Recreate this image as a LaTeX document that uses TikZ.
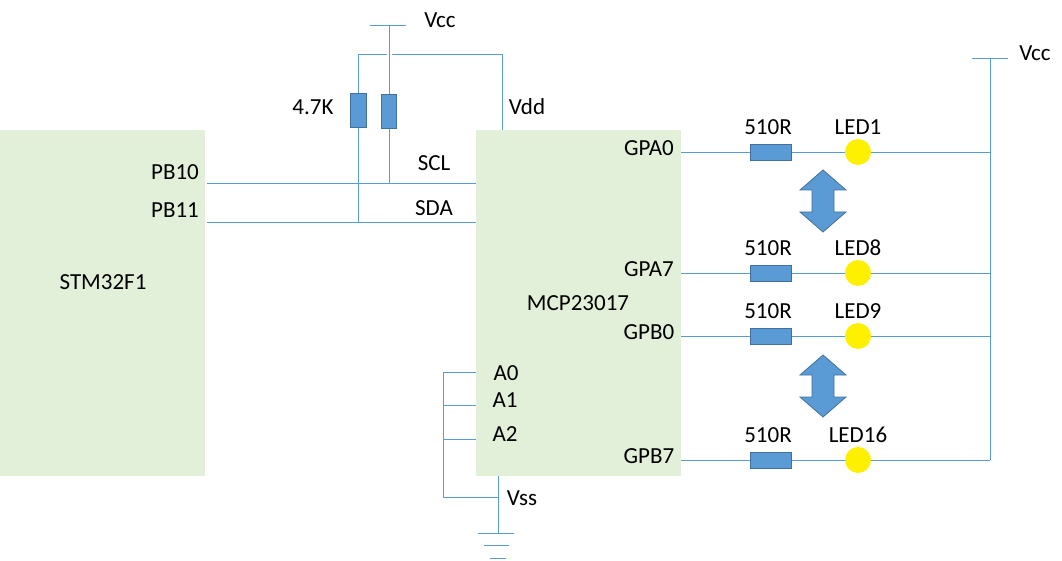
\documentclass[tikz,border=0pt]{standalone}
\usepackage{fontspec}
\setmainfont{Carlito}
\usetikzlibrary{positioning}
\definecolor{wire}{RGB}{91,155,213}
\definecolor{wiredark}{RGB}{65,113,156}
\definecolor{chip}{RGB}{226,239,217}
\definecolor{ledyellow}{RGB}{255,240,0}
\tikzset{
    chip/.style={fill=chip,draw=none,minimum width=205pt,minimum height=346pt,inner sep=0pt},
    wire/.style={draw=wire,line width=0.9pt},
    res/.style={fill=wire,draw=wiredark,line width=0.8pt},
    led/.style={fill=ledyellow,draw=none},
    lbl/.style={font=\fontsize{23}{27}\selectfont,inner sep=0pt}
}
\newcommand{\dblarrow}[2]{%
  \filldraw[res] (#1,#2) -- ++(23,20) -- ++(-12,0) -- ++(0,22) -- ++(12,0)
    -- ++(-23,20) -- ++(-23,-20) -- ++(12,0) -- ++(0,-22) -- ++(-12,0) -- cycle;}
\begin{document}
\begin{tikzpicture}[x=1pt,y=-1pt]
    \useasboundingbox (0,0) rectangle (1062,561);
    % chips
    \node[chip,anchor=north west] (stm) at (0,130) {};
    \node[chip,anchor=north west] (mcp) at (476,130) {};
    \node[lbl] at (103,282) {STM32F1};
    \node[lbl] at (578,303) {MCP23017};
    \node[lbl] at (175,172) {PB10};
    \node[lbl] at (175,210) {PB11};
    \node[lbl] at (434,163) {SCL};
    \node[lbl] at (434,208) {SDA};
    \node[lbl] at (527,107) {Vdd};
    \node[lbl] at (440,20) {Vcc};
    \node[lbl] at (313,107) {4.7K};
    \node[lbl] at (506,373) {A0};
    \node[lbl] at (505,400) {A1};
    \node[lbl] at (505,434) {A2};
    \node[lbl] at (522,498) {Vss};
    \node[lbl] at (1035,53) {Vcc};
    % I2C bus
    \draw[wire] (207,183) -- (476,183);
    \draw[wire] (207,222) -- (476,222);
    \draw[wire] (358,222) -- (358,54) -- (387,54);
    \draw[wire] (389,183) -- (389,25);
    \draw[wire] (370,25) -- (406,25);
    \draw[wire] (392,54) -- (502,54) -- (502,130);
    \filldraw[res] (350,93) rectangle (366,127);
    \filldraw[res] (381,94) rectangle (396,128);
    % address and ground
    \draw[wire] (443,372) -- (443,497) -- (498,497);
    \foreach \y in {372,405,439}
        \draw[wire] (443,\y) -- (476,\y);
    \draw[wire] (498,476) -- (498,533);
    \draw[wire] (478,533) -- (514,533);
    \draw[wire] (484,545) -- (509,545);
    \draw[wire] (490,558) -- (506,558);
    % LED rows
    \draw[wire] (990,460) -- (990,58);
    \draw[wire] (972,58) -- (1008,58);
    \foreach \y/\pin/\led in {152/GPA0/LED1,273/GPA7/LED8,336/GPB0/LED9,460/GPB7/LED16}{
        \draw[wire] (681,\y) -- (990,\y);
        \filldraw[res] (750,\y-8) rectangle (791,\y+8);
        \fill[led] (858,\y) circle (13);
        \node[lbl] at (649,\y-4) {\pin};
        \node[lbl] at (768,\y-25) {510R};
        \node[lbl] at (858,\y-25) {\led};
    }
    \dblarrow{823}{170}
    \dblarrow{823}{355}
\end{tikzpicture}
\end{document}
